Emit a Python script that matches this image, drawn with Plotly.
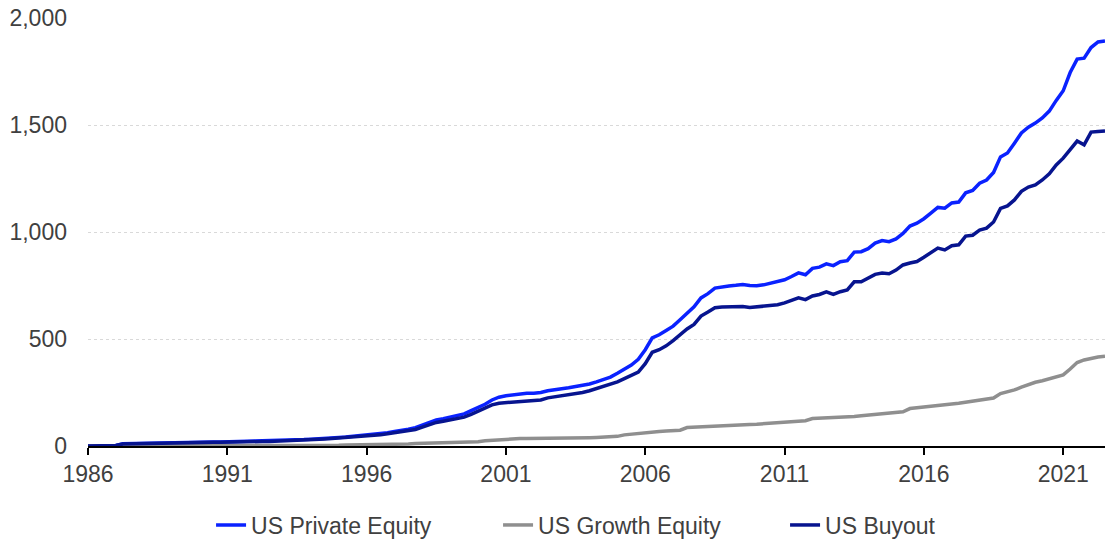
import plotly.graph_objects as go

start_year = 1986
# Quarterly values, 1986 Q1 .. 2022 Q3 (147 points)
us_private_equity = [
    0, 0, 1, 1,
    2, 10, 11, 12,
    13, 14, 15, 15,
    16, 17, 17, 18,
    18, 19, 19, 19,
    20, 20, 20, 21,
    21, 22, 22, 23,
    24, 26, 28, 30,
    32, 33, 35, 37,
    40, 42, 45, 47,
    50, 52, 56, 62,
    68, 72, 78, 86,
    98, 112, 122, 128,
    135, 142, 150, 165,
    180, 195, 215, 228,
    235, 240, 244, 246,
    247, 250, 258, 265,
    268, 272, 277, 285,
    290, 300, 313, 322,
    340, 360, 378, 405,
    450, 505, 520, 540,
    560, 590, 620, 650,
    692, 712, 738, 745,
    748, 751, 755, 750,
    749, 753, 761, 767,
    777, 792, 809, 800,
    830, 836, 851, 843,
    861, 866, 906, 908,
    922, 948, 960, 955,
    968, 993, 1028, 1041,
    1062, 1088, 1115, 1111,
    1136, 1140, 1183, 1194,
    1228, 1243, 1278, 1351,
    1369, 1415, 1463, 1490,
    1509, 1533, 1565, 1615,
    1660, 1745, 1808, 1812,
    1862, 1888, 1893,
]
us_growth_equity = [
    0, 0, 0, 0,
    0, 1, 1, 1,
    1, 1, 1, 1,
    1, 1, 1, 1,
    1, 1, 1, 2,
    2, 2, 2, 2,
    2, 2, 2, 2,
    2, 3, 3, 3,
    3, 3, 4, 4,
    4, 5, 5, 5,
    5, 6, 6, 6,
    7, 8, 9, 12,
    13, 14, 14, 15,
    15, 16, 17, 18,
    20, 24, 27, 29,
    31, 34, 35, 35,
    35, 35, 36, 36,
    36, 36, 37, 38,
    39, 40, 42, 43,
    45, 52, 56, 60,
    63, 66, 68, 70,
    72, 74, 86, 88,
    90, 92, 95, 96,
    98, 99, 100, 101,
    102, 104, 106, 108,
    110, 112, 115, 118,
    128, 129, 130, 132,
    134, 136, 138, 141,
    144, 147, 150, 153,
    156, 160, 175, 178,
    180, 184, 188, 192,
    196, 200, 205, 208,
    212, 218, 224, 245,
    252, 262, 275, 288,
    298, 305, 315, 322,
    332, 360, 390, 402,
    410, 416, 420,
]
us_buyout = [
    0, 0, 1, 1,
    2, 9, 10, 11,
    12, 13, 14, 14,
    15, 16, 16, 17,
    17, 18, 18, 18,
    19, 19, 19, 20,
    20, 21, 21, 22,
    23, 24, 26, 28,
    30, 31, 33, 35,
    37, 39, 42, 44,
    46, 48, 52, 57,
    62, 66, 71, 77,
    88, 100, 110, 116,
    122, 128, 135, 148,
    162, 175, 192, 200,
    203, 206, 207, 209,
    211, 215, 225, 230,
    233, 237, 243, 250,
    258, 268, 280, 287,
    300, 315, 328, 345,
    385, 438, 450, 468,
    492, 522, 547, 568,
    607, 626, 646, 650,
    650, 651, 652, 647,
    650, 651, 655, 660,
    669, 681, 692, 684,
    701, 708, 720, 708,
    721, 729, 767, 767,
    786, 802, 808, 805,
    822, 846, 855, 862,
    882, 906, 925, 916,
    936, 940, 981, 985,
    1009, 1018, 1047, 1110,
    1122, 1150, 1190, 1210,
    1220, 1243, 1272, 1313,
    1345, 1385, 1425, 1407,
    1467, 1470, 1472,
]
x_tick_years = [1986, 1991, 1996, 2001, 2006, 2011, 2016, 2021]
y_tick_vals = [0, 500, 1000, 1500, 2000]

x = [start_year + i / 4 for i in range(len(us_private_equity))]

series = [
    ("US Private Equity", us_private_equity, "#0A22FF"),
    ("US Growth Equity", us_growth_equity, "#8F8F8F"),
    ("US Buyout", us_buyout, "#07148F"),
]

fig = go.Figure()
for name, vals, color in series:
    fig.add_trace(go.Scatter(x=x, y=vals, name=name, mode="lines",
                             line=dict(color=color, width=3.5)))

font_family = "Liberation Sans, Arial, sans-serif"
fig.update_layout(
    width=1105, height=541,
    margin=dict(l=88, r=0, t=18, b=95, autoexpand=False),
    paper_bgcolor="white", plot_bgcolor="white",
    font=dict(family=font_family, size=23, color="#404040"),
    showlegend=True,
    legend=dict(orientation="h", xref="container", yref="paper",
                x=0.191, xanchor="left", y=-0.1846, yanchor="middle",
                entrywidth=242, entrywidthmode="pixels",
                font=dict(size=23, color="#404040"), tracegroupgap=0,
                bgcolor="rgba(0,0,0,0)"),
    hovermode=False,
)
fig.update_xaxes(
    range=[x[0], x[-1]], tickmode="array", tickvals=x_tick_years,
    ticktext=[str(v) for v in x_tick_years], automargin=False,
    showgrid=False, zeroline=False,
    showline=True, linecolor="#000000", linewidth=1.5,
    ticks="outside", ticklen=7, tickwidth=1.5, tickcolor="#000000",
    tickfont=dict(size=23, color="#404040"),
)
fig.update_yaxes(
    range=[0, 2000], tickmode="array", tickvals=y_tick_vals,
    tickformat=",", showgrid=True, gridcolor="#D9D9D9", gridwidth=1,
    griddash="dot", zeroline=False, showline=False, ticks="",
    ticklabelstandoff=20, automargin=False,
    tickfont=dict(size=23, color="#404040"),
)

fig.write_html(
    "out.html",
    config={"displayModeBar": False},
    post_script="document.body.style.margin='0';document.body.style.overflow='hidden';",
)
